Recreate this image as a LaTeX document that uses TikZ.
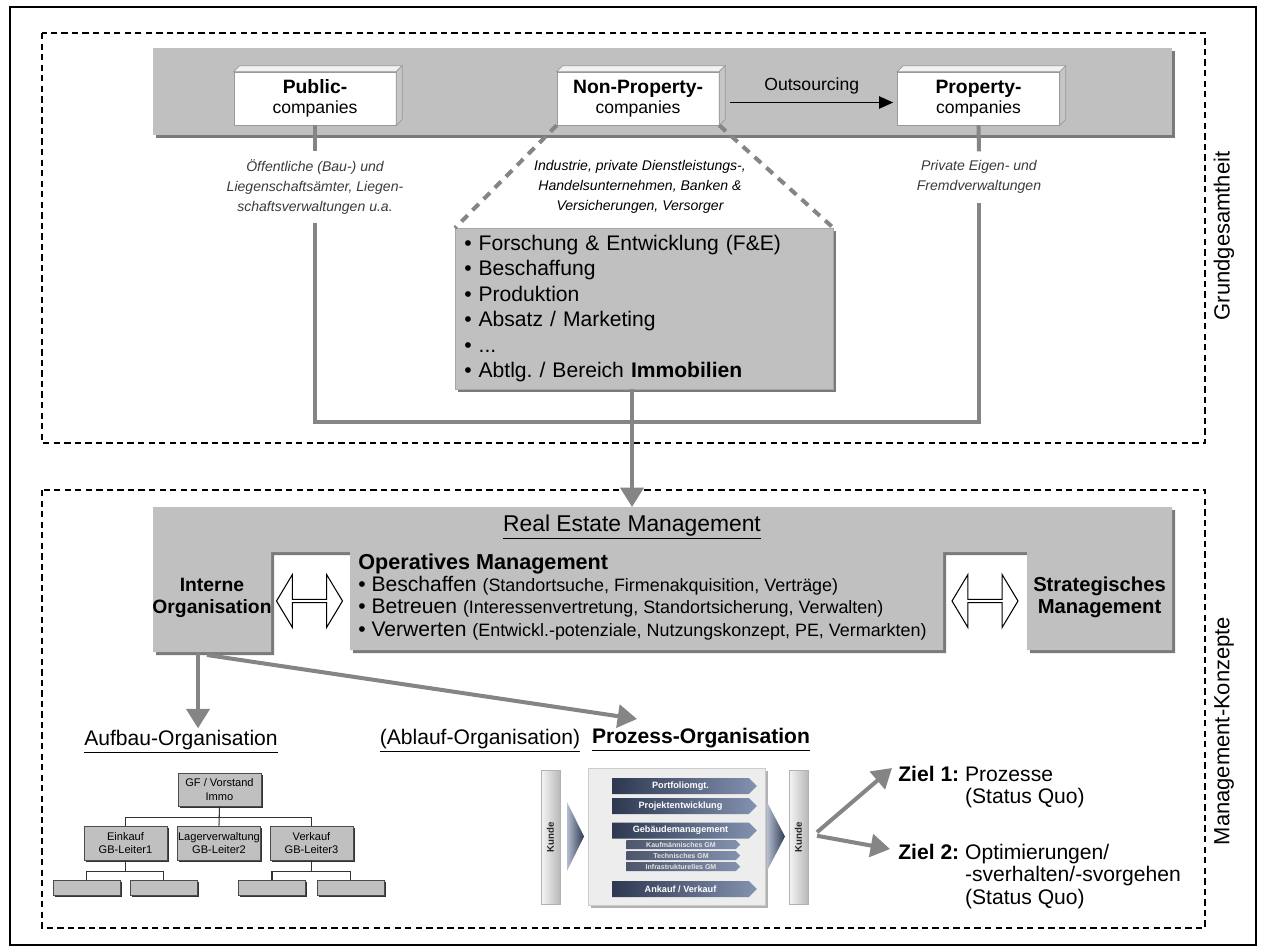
\documentclass[tikz,border=0pt]{standalone}
\usepackage{fontspec}
\setmainfont{Liberation Sans}
\usetikzlibrary{arrows.meta,shapes.arrows,shapes.symbols,shadows,calc}
\definecolor{BandGray}{HTML}{C0C0C0}
\definecolor{ShadeGray}{HTML}{7A7A7A}
\definecolor{LineGray}{HTML}{858585}
\definecolor{NoteGray}{HTML}{3A3A3A}
\definecolor{ProcDark}{HTML}{2E3850}
\definecolor{ProcLight}{HTML}{8392B0}
\newcommand{\fsz}[2]{\fontsize{#1}{#2}\selectfont}
\newcommand{\boxdepth}[1]{%
  \filldraw[draw=gray!80, fill=gray!10] (#1.north west) -- ++(6,-6) -- ($(#1.north east)+(6,-6)$) -- (#1.north east) -- cycle;
  \filldraw[draw=gray!80, fill=gray!45] (#1.north east) -- ++(6,-6) -- ($(#1.south east)+(6,-6)$) -- (#1.south east) -- cycle;}
\frenchspacing

\begin{document}
\begin{tikzpicture}[x=0.02cm, y=-0.02cm,
    zone/.style={draw, line width=0.8pt, dash pattern=on 3.6pt off 2.4pt},
    zonelabel/.style={rotate=90, font=\fsz{12.5}{15}},
    band/.style={fill=BandGray, inner sep=0pt, drop shadow={shadow xshift=1.6pt, shadow yshift=-1.6pt, fill=ShadeGray, opacity=1}},
    compbox/.style={draw=gray!80, fill=white, minimum width=3.24cm, minimum height=1.06cm, inner sep=0pt, align=center, font=\fsz{10}{11.5}},
    note/.style={align=center, font=\itshape\fsz{8}{11.3}, inner sep=5pt},
    conn/.style={draw=LineGray, line width=2.3pt},
    gapline/.style={conn, dash pattern=on 5pt off 4pt},
    grayarrow/.style={conn, -{Triangle[length=11pt,width=13pt]}},
    outarrow/.style={draw=black, line width=0.7pt, -{Triangle[length=8pt,width=7pt]}},
    listbox/.style={fill=BandGray, draw=gray!70, line width=0.3pt, text width=7.2cm, inner xsep=0.18cm, minimum height=3.22cm, align=left, font=\fsz{12}{14.5}, drop shadow={shadow xshift=1.4pt, shadow yshift=-1.4pt, fill=ShadeGray, opacity=1}},
    remlabel/.style={align=center, font=\bfseries\fsz{11}{12.5}},
    dblarrow/.style={double arrow, draw, fill=white, line width=0.6pt, minimum height=1.32cm, minimum width=1.06cm, double arrow head extend=0.17cm, double arrow tip angle=118, inner sep=0pt},
    heading/.style={font=\fsz{12}{14}, inner sep=1pt},
    orgbox/.style={draw=gray!60!black, line width=0.4pt, fill=BandGray, inner sep=0pt, align=center, font=\fsz{6.3}{7.6}, minimum width=1.66cm, drop shadow={shadow xshift=0.9pt, shadow yshift=-0.9pt, fill=black!80, opacity=1}},
    orgline/.style={draw=black!80, line width=0.6pt},
    panel/.style={fill=gray!14, draw=gray!40, line width=0.3pt, minimum width=3.54cm, minimum height=2.74cm, drop shadow={shadow xshift=1.5pt, shadow yshift=-1.5pt, fill=gray!60, opacity=1}},
    procarrow/.style={signal, signal to=east, left color=ProcDark, right color=ProcLight, text=white, font=\bfseries\fsz{5.2}{6}, minimum width=2.9cm, minimum height=0.32cm, inner sep=0pt},
    procsub/.style={procarrow, minimum width=2.28cm, minimum height=0.18cm, font=\bfseries\fsz{4}{4.5}, text=gray!20, left color=ProcDark!85, right color=ProcLight},
    kundebar/.style={minimum width=0.38cm, minimum height=2.68cm, inner sep=0pt, left color=gray!8, right color=gray!55, draw=gray!60, line width=0.3pt},
    kundetxt/.style={rotate=90, font=\bfseries\fsz{5.5}{6}, text=black!85, inner sep=0pt},
    zieltxt/.style={anchor=north west, font=\fsz{12}{12.8}, inner sep=0pt}
  ]
  \useasboundingbox (0,0) rectangle (1262,950);
  \draw[line width=0.7pt] (10,7) rectangle (1256,945);

  % two zones
  \draw[zone] (42,33) rectangle (1205,443);
  \draw[zone] (42,490) rectangle (1205,928);
  \node[zonelabel] (grundlbl) at (1224,236) {Grundgesamtheit};
  \node[zonelabel] (mgmtlbl) at (1224,731) {Management-Konzepte};

  % company types
  \node[band, minimum width=20.38cm, minimum height=1.74cm] (band) at (662.5,91.5) {};
  \node[compbox] (pub) at (315,98.5) {\textbf{\fsz{11}{11.5}Public-}\\companies};
  \node[compbox] (np) at (638,98.5) {\textbf{\fsz{11}{11.5}Non-Property-}\\companies};
  \node[compbox] (prop) at (978.5,98.5) {\textbf{\fsz{11}{11.5}Property-}\\companies};
  \boxdepth{pub}
  \boxdepth{np}
  \boxdepth{prop}
  \draw[outarrow] ([shift={(11,4)}]np.east) -- ([shift={(-4,4)}]prop.west)
    node[midway, above=1pt, font=\fsz{10}{12}, text=black] (outs) {Outsourcing};

  \node[note, text=NoteGray] (pubnote) at (315,187) {Öffentliche (Bau-) und\\Liegenschaftsämter, Liegen-\\schaftsverwaltungen u.a.};
  \node[note] (npnote) at (640,187) {Industrie, private Dienstleistungs-,\\Handelsunternehmen, Banken \&\\Versicherungen, Versorger};
  \node[note, text=NoteGray] (propnote) at (979,177) {Private Eigen- und\\Fremdverwaltungen};

  \node[listbox, anchor=north west] (list) at (455,228) {%
    • Forschung \& Entwicklung (F\&E)\\
    • Beschaffung\\
    • Produktion\\
    • Absatz / Marketing\\
    • ...\\
    • Abtlg. / Bereich \textbf{Immobilien}};

  \draw[gapline] (np.south west) -- (list.north west);
  \draw[gapline] (np.south east) -- (list.north east);
  \draw[conn] (pub.south) -- (pubnote.north);
  \draw[conn] (prop.south) -- (propnote.north);
  \coordinate (jn) at (632,422);
  \draw[conn] (pubnote.south) |- (jn) -| (propnote.south);

  % real estate management
  \fill[ShadeGray, shift={(3,3)}] (153,507) -- (1172,507) -- (1172,650) -- (1027,650) -- (1027,552) -- (943,552) -- (943,650) -- (350,650) -- (350,552) -- (271,552) -- (271,652) -- (153,652) -- cycle;
  \fill[BandGray] (153,507) -- (1172,507) -- (1172,650) -- (1027,650) -- (1027,552) -- (943,552) -- (943,650) -- (350,650) -- (350,552) -- (271,552) -- (271,652) -- (153,652) -- cycle;
  \coordinate (remtop) at (632,507);
  \draw[grayarrow] (list.south -| jn) -- (remtop);

  \node[font=\fsz{13}{15}] (remtitle) at (632,527) {\underline{Real Estate Management}};
  \node[remlabel] (interne) at (212,598) {Interne\\Organisation};
  \node[remlabel, font=\bfseries\fsz{11.5}{12.5}] (strat) at (1099.5,597) {Strategisches\\Management};
  \node[anchor=north west, align=left, font=\fsz{12}{12.8}, inner sep=0pt] (operativ) at (358,553) {%
    \textbf{\fsz{12.3}{12.8}Operatives Management}\\
    • Beschaffen {\fsz{10.2}{12.8}(Standortsuche, Firmenakquisition, Verträge)}\\
    • Betreuen {\fsz{10.2}{12.8}(Interessenvertretung, Standortsicherung, Verwalten)}\\
    • Verwerten {\fsz{10.2}{12.8}(Entwickl.-potenziale, Nutzungskonzept, PE, Vermarkten)}};
  \node[dblarrow] (arrL) at (309.5,601) {};
  \node[dblarrow] (arrR) at (985,601) {};

  % organisation forms
  \node[heading] (aufbau) at (181,742) {\underline{Aufbau-Organisation}};
  \node[heading] (ablauf) at (480,741) {\underline{(Ablauf-Organisation)}};
  \node[heading, font=\bfseries\fsz{12}{14}] (prozess) at (701,740) {\underline{Prozess-Organisation}};
  \coordinate (intS) at (198,653);
  \coordinate (intSE) at (207,655);
  \coordinate (prozTip) at (637,719);
  \draw[grayarrow] (intS) -- (intS |- aufbau.north);
  \draw[grayarrow] (intSE) -- (prozTip);

  % organisation chart
  \node[orgbox, minimum height=0.66cm] (gf) at (219.5,789.5) {GF / Vorstand\\Immo};
  \node[orgbox, minimum height=0.68cm] (einkauf) at (125.5,843) {Einkauf\\GB-Leiter1};
  \node[orgbox, minimum height=0.68cm] (lager) at (219,843) {Lagerverwaltung\\GB-Leiter2};
  \node[orgbox, minimum height=0.68cm] (verkauf) at (311.5,843) {Verkauf\\GB-Leiter3};
  \node[orgbox, minimum width=1.34cm, minimum height=0.3cm] (sub1) at (86.5,887.5) {};
  \node[orgbox, minimum width=1.34cm, minimum height=0.3cm] (sub2) at (163.5,887.5) {};
  \node[orgbox, minimum width=1.34cm, minimum height=0.3cm] (sub3) at (272,887.5) {};
  \node[orgbox, minimum width=1.34cm, minimum height=0.3cm] (sub4) at (350.5,887.5) {};
  \draw[orgline] (gf.south) -- (lager.north);
  \draw[orgline] (gf.south) ++(0,11) -| (einkauf.north);
  \draw[orgline] (gf.south) ++(0,11) -| (verkauf.north);
  \draw[orgline] (einkauf.south) -- ++(0,11) -| (sub1.north);
  \draw[orgline] (einkauf.south) ++(0,11) -| (sub2.north);
  \draw[orgline] (verkauf.south) -- ++(0,11) -| (sub3.north);
  \draw[orgline] (verkauf.south) ++(0,11) -| (sub4.north);

  % process graphic
  \node[kundebar] (kundeL) at (550.5,837) {};
  \node[kundetxt] (kundeLtxt) at (kundeL) {Kunde};
  \shade[left color=ProcLight!60, right color=ProcDark] (567,802) -- (584,836.5) -- (567,871) -- cycle;
  \node[panel] (panel) at (676.5,836.5) {};
  \node[procarrow] (portf) at (680.5,786) {Portfoliomgt.};
  \node[procarrow] (projekt) at (680.5,806) {Projektentwicklung};
  \node[procarrow] (gebaeude) at (680.5,830.5) {Gebäudemanagement};
  \node[procsub] (kfm) at (681,844.5) {Kaufmännisches GM};
  \node[procsub] (tech) at (681,855.5) {Technisches GM};
  \node[procsub] (infra) at (681,866.5) {Infrastrukturelles GM};
  \node[procarrow] (ankauf) at (680.5,889) {Ankauf / Verkauf};
  \shade[left color=ProcLight!60, right color=ProcDark] (767,802) -- (785,836.5) -- (767,871) -- cycle;
  \node[kundebar] (kundeR) at (798.5,837) {};
  \node[kundetxt] (kundeRtxt) at (kundeR) {Kunde};

  % goals
  \node[zieltxt] (ziel1) at (898,765) {\begin{tabular}{@{}l@{ }l@{}}\textbf{Ziel 1:} & Prozesse\\ & (Status Quo)\end{tabular}};
  \node[zieltxt] (ziel2) at (898,843) {\begin{tabular}{@{}l@{ }l@{}}\textbf{Ziel 2:} & Optimierungen/\\ & -sverhalten/-svorgehen\\ & (Status Quo)\end{tabular}};
  \coordinate (zfork) at (817,834);
  \draw[grayarrow] ([yshift=1pt]zfork) -- ([shift={(-6,3)}]ziel1.north west);
  \draw[grayarrow] ([yshift=-1pt]zfork) -- ([shift={(-8,6)}]ziel2.north west);
\end{tikzpicture}
\end{document}
